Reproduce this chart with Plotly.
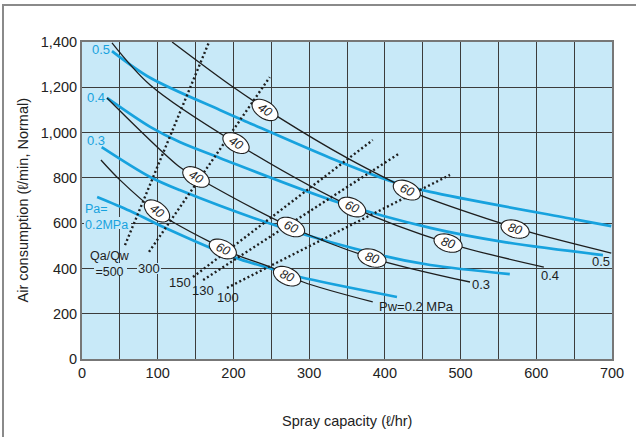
import numpy as np
import plotly.graph_objects as go

# ---------------- data ----------------
# Blue curves: air pressure Pa (MPa)
pa_levels = ["0.5", "0.4", "0.3", "0.2"]
pa05_x = [39.6, 90, 182, 218, 328, 411, 460, 649, 699]
pa05_y = [1360, 1242, 1100, 1047, 888, 782, 738, 618, 587]
pa04_x = [33, 90, 129, 182, 341, 460, 560, 688]
pa04_y = [1153, 1025, 958, 888, 689, 579, 515, 459]
pa03_x = [26, 90, 129, 262, 394, 460, 565]
pa03_y = [936, 804, 746, 583, 459, 415, 375]
pa02_x = [20, 63, 103, 199.5, 252, 288, 416]
pa02_y = [716, 655, 590, 451, 397, 362, 274]

# Black curves: water pressure Pw (MPa)
pw05_x = [119, 199.5, 261.6, 350, 410.8, 446.5, 552, 596, 699]
pw05_y = [1400, 1201, 1064, 888, 782, 724, 601, 556, 468]
pw04_x = [39.6, 90, 203, 357, 483.5, 610]
pw04_y = [1396, 1210, 954, 671, 512, 406]
pw03_x = [33, 129, 150.6, 276, 383, 512.5]
pw03_y = [1153, 848, 804, 583, 446, 340]
pw02_x = [25, 50, 99, 120, 169, 205, 252, 292, 384]
pw02_y = [879, 791, 649, 605, 517, 459, 402, 340, 252]

# Dotted lines: Qa/Qw ratio (start and end points)
qr_labels = ["=500", "300", "150", "130", "100"]
qr_x0 = [56.8, 88.5, 146.6, 160, 191.5]
qr_y0 = [503, 473, 362, 349, 314]
qr_x1 = [167.8, 248, 384, 420, 486]
qr_y1 = [1400, 1245, 967, 910, 813]

# Ellipse labels on the black curves
ell_text = ["40", "60", "80"]
ell_x = {"0.5": [241.7, 429, 572], "0.4": [203.4, 356.7, 483.5],
         "0.3": [150.6, 276, 383], "0.2": [99, 186, 270.8]}
ell_y = {"0.5": [1100, 746, 574], "0.4": [954, 671, 512],
         "0.3": [804, 583, 446], "0.2": [654, 486, 366]}

x_ticks = [0, 100, 200, 300, 400, 500, 600, 700]
y_ticks = [0, 200, 400, 600, 800, 1000, 1200, 1400]

# ---------------- layout constants ----------------
W, H = 636, 437
ML, MR, MT, MB = 82, 24, 42, 78
PWD, PHT = W - ML - MR, H - MT - MB
XMAX, YMAX = 700, 1400
sx, sy = PWD / XMAX, PHT / YMAX

BG = "#c8e9f8"
BLUE = "#17a2de"
BLACK = "#1e1e1e"
GRID = "#3c3c3c"
FONT = "Liberation Sans, Arial, sans-serif"
LS = 13  # label font size

fig = go.Figure()

blue = [(pa05_x, pa05_y), (pa04_x, pa04_y), (pa03_x, pa03_y), (pa02_x, pa02_y)]
black = {"0.5": (pw05_x, pw05_y), "0.4": (pw04_x, pw04_y),
         "0.3": (pw03_x, pw03_y), "0.2": (pw02_x, pw02_y)}

for x, y in blue:
    fig.add_trace(go.Scatter(x=x, y=y, mode="lines", hoverinfo="skip", showlegend=False,
                             line=dict(color=BLUE, width=2.7, shape="spline", smoothing=0.9)))
for k, (x, y) in black.items():
    fig.add_trace(go.Scatter(x=x, y=y, mode="lines", hoverinfo="skip", showlegend=False,
                             line=dict(color=BLACK, width=1.3, shape="spline", smoothing=0.9)))
for i in range(len(qr_labels)):
    fig.add_trace(go.Scatter(x=[qr_x0[i], qr_x1[i]], y=[qr_y0[i], qr_y1[i]], mode="lines",
                             hoverinfo="skip", showlegend=False,
                             line=dict(color=BLACK, width=2.4, dash="2px,2.6px")))

shapes = []
annots = []


def px2x(p):
    return (p - ML) / sx


def py2y(q):
    return (H - MB - q) / sy


# background patches hiding gridlines behind some labels (between grid and traces)
for (x0, x1, y0, y1) in [(84, 131, 217, 229), (94, 127, 263, 275), (137, 161, 263, 274)]:
    shapes.append(dict(type="rect", xref="x", yref="y", layer="between",
                       x0=px2x(x0), x1=px2x(x1), y0=py2y(y1), y1=py2y(y0),
                       fillcolor=BG, line=dict(width=0)))

# ellipses
for k, (cx_list, cy_list) in zip(ell_x.keys(), zip(ell_x.values(), ell_y.values())):
    xs, ys = black[k]
    for t, cx, cy in zip(ell_text, cx_list, cy_list):
        ya = np.interp(cx - 10, xs, ys)
        yb = np.interp(cx + 10, xs, ys)
        ang = np.degrees(np.arctan2((ya - yb) * sy, 20 * sx))  # clockwise screen angle
        th = np.radians(ang)
        a, b = 14.5, 8.5
        pts = []
        for tt in np.linspace(0, 2 * np.pi, 41):
            dxp = a * np.cos(tt) * np.cos(th) - b * np.sin(tt) * np.sin(th)
            dyp = a * np.cos(tt) * np.sin(th) + b * np.sin(tt) * np.cos(th)
            pts.append((cx + dxp / sx, cy - dyp / sy))
        path = "M " + " L ".join(f"{px:.3f},{py:.3f}" for px, py in pts) + " Z"
        shapes.append(dict(type="path", path=path, xref="x", yref="y", layer="above",
                           fillcolor="white", line=dict(color=BLACK, width=1.1)))
        annots.append(dict(x=cx, y=cy, xref="x", yref="y", text=f"<i>{t}</i>", showarrow=False,
                           textangle=ang, font=dict(family=FONT, size=12.5, color=BLACK)))

# blue labels
for txt, x, y in [("0.5", 10.6, 1365), ("0.4", 4, 1157), ("0.3", 4, 967)]:
    annots.append(dict(x=x, y=y, xref="x", yref="y", text=txt, showarrow=False, xanchor="left",
                       font=dict(family=FONT, size=LS, color=BLUE)))
annots.append(dict(x=px2x(84), y=py2y(216.5), xref="x", yref="y", text="Pa=<br>0.2MPa",
                   showarrow=False, xanchor="left", align="left", borderpad=0,
                   font=dict(family=FONT, size=12.5, color=BLUE)))
# black Pw labels
annots.append(dict(x=px2x(377), y=py2y(306), xref="x", yref="y", text="Pw=0.2 MPa",
                   showarrow=False, xanchor="left", font=dict(family=FONT, size=LS, color=BLACK)))
for txt, px, py in [("0.3", 481, 284), ("0.4", 550, 275), ("0.5", 601, 261)]:
    annots.append(dict(x=px2x(px), y=py2y(py), xref="x", yref="y", text=txt, showarrow=False,
                       font=dict(family=FONT, size=LS, color=BLACK)))
# ratio labels
annots.append(dict(x=px2x(110), y=py2y(264), xref="x", yref="y", text="Qa/Qw<br>=500",
                   showarrow=False, borderpad=0, font=dict(family=FONT, size=12.5, color=BLACK)))
for txt, px, py in zip(qr_labels[1:], [149, 180, 203, 228], [268, 282, 290, 297]):
    annots.append(dict(x=px2x(px), y=py2y(py), xref="x", yref="y", text=txt, showarrow=False,
                       borderpad=0, font=dict(family=FONT, size=LS, color=BLACK)))

# axis titles
annots.append(dict(x=0.5, y=-(421 - (H - MB)) / PHT, xref="paper", yref="paper",
                   text="Spray capacity (ℓ/hr)", showarrow=False, yanchor="middle",
                   font=dict(family=FONT, size=14.5, color="#222")))
annots.append(dict(x=-(ML - 22) / PWD, y=0.5, xref="paper", yref="paper",
                   text="Air consumption (ℓ/min, Normal)", showarrow=False, textangle=-90,
                   xanchor="center", font=dict(family=FONT, size=14.5, color="#222")))

# outer frame (top and left lines)
shapes.append(dict(type="line", xref="paper", yref="paper", x0=(2 - ML) / PWD, x1=(W - ML) / PWD,
                   y0=(H - MB - 5) / PHT, y1=(H - MB - 5) / PHT, line=dict(color="#8a8a8a", width=2)))
shapes.append(dict(type="line", xref="paper", yref="paper", x0=(3 - ML) / PWD, x1=(3 - ML) / PWD,
                   y0=(H - MB - 5) / PHT, y1=-MB / PHT, line=dict(color="#8a8a8a", width=2)))

fig.update_layout(
    width=W, height=H, margin=dict(l=ML, r=MR, t=MT, b=MB),
    paper_bgcolor="white", plot_bgcolor=BG,
    shapes=shapes, annotations=annots, showlegend=False,
    font=dict(family=FONT, size=14, color="#222"),
)
fig.update_xaxes(range=[0, XMAX], tickvals=x_ticks, ticktext=[str(v) for v in x_ticks],
                 showgrid=True, gridcolor=GRID, gridwidth=1.2,
                 minor=dict(dtick=50, showgrid=True, gridcolor=GRID, gridwidth=1.2),
                 showline=True, linecolor="#777", linewidth=2, mirror=True,
                 zeroline=False, ticks="", tickfont=dict(size=14.5), fixedrange=True)
fig.update_yaxes(range=[0, YMAX], tickvals=y_ticks, ticktext=[f"{v:,}" for v in y_ticks],
                 showgrid=True, gridcolor=GRID, gridwidth=1.2,
                 showline=True, linecolor="#777", linewidth=2, mirror=True,
                 zeroline=False, ticks="", tickfont=dict(size=14.5), fixedrange=True)

fig.write_html("out.html", config={"displayModeBar": False},
               post_script="document.body.style.margin='0';document.body.style.overflow='hidden';")
